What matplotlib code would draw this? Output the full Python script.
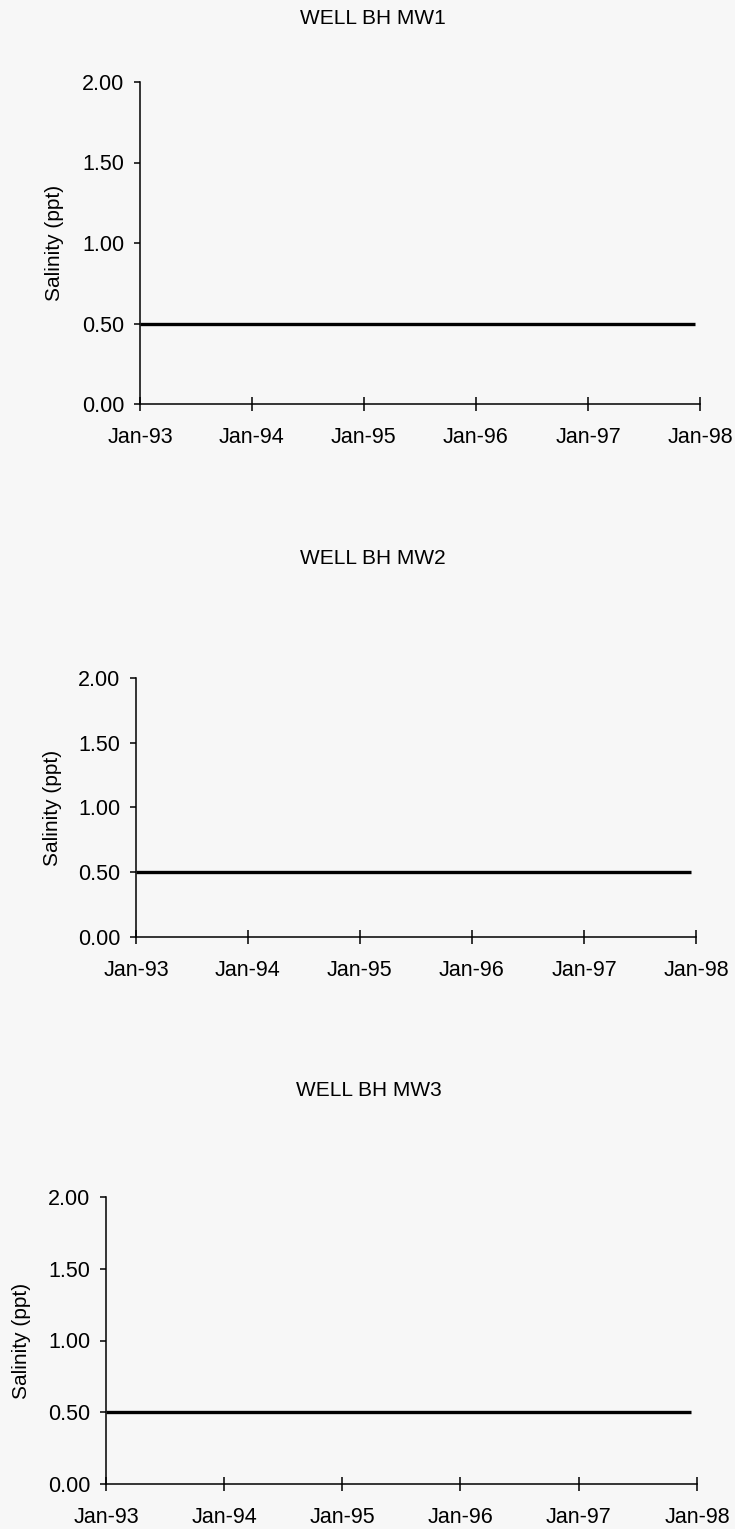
import matplotlib
matplotlib.use('Agg')
import matplotlib.pyplot as plt
import matplotlib.dates as mdates
import numpy as np

# salinity readings (ppt) for the three wells, flat at 0.50 the whole period
wells = ['WELL BH MW1', 'WELL BH MW2', 'WELL BH MW3']
mw1_dates = ['1993-01-01', '1997-12-15']
mw1_sal = [0.50, 0.50]
mw2_dates = ['1993-01-01', '1997-12-15']
mw2_sal = [0.50, 0.50]
mw3_dates = ['1993-01-01', '1997-12-15']
mw3_sal = [0.50, 0.50]

yticks = [0.0, 0.5, 1.0, 1.5, 2.0]
year_ticks = ['1993-01-01', '1994-01-01', '1995-01-01', '1996-01-01', '1997-01-01', '1998-01-01']

W, H = 735, 1529
bg = '#f7f7f7'
fig = plt.figure(figsize=(W / 100, H / 100), dpi=100, facecolor=bg)

# pixel boxes: left, right, top (y=2), bottom (y=0)
boxes = [(140, 700, 82, 404), (136, 696, 678, 937), (106, 697, 1197, 1484)]
title_pos = [(373, 19), (373, 559), (369, 1090)]
ylab_x = [55, 52, 22]
series = [(mw1_dates, mw1_sal), (mw2_dates, mw2_sal), (mw3_dates, mw3_sal)]

for i in range(3):
    l, r, t, b = boxes[i]
    ax = fig.add_axes([l / W, 1 - b / H, (r - l) / W, (b - t) / H])
    ax.set_facecolor(bg)
    d = np.array(series[i][0], dtype='datetime64[D]')
    ax.plot(d, series[i][1], color='black', linewidth=2.4, solid_capstyle='butt')

    ax.set_ylim(0, 2)
    ax.set_xlim(np.datetime64('1993-01-01'), np.datetime64('1998-01-01'))
    ax.set_yticks(yticks)
    ax.set_yticklabels(['%.2f' % v for v in yticks], fontsize=15.5, family='Liberation Sans')
    ax.set_xticks(np.array(year_ticks, dtype='datetime64[D]'))
    ax.xaxis.set_major_formatter(mdates.DateFormatter('%b-%y'))
    for lab in ax.get_xticklabels():
        lab.set_fontsize(15.5)
        lab.set_family('Liberation Sans')

    for s in ['top', 'right']:
        ax.spines[s].set_visible(False)
    for s in ['left', 'bottom']:
        ax.spines[s].set_linewidth(1.1)
    ax.tick_params(axis='y', direction='out', length=4.5, width=1.1, pad=7)
    ax.tick_params(axis='x', direction='inout', length=9.5, width=1.1, pad=12)

    ax.set_ylabel('Salinity (ppt)', fontsize=15, family='Liberation Sans', va='center')
    ax.yaxis.set_label_coords((ylab_x[i] - l) / (r - l), 0.5)

    tx, ty = title_pos[i]
    fig.text(tx / W, 1 - ty / H, wells[i], ha='center', va='center', fontsize=15,
             family='Liberation Sans')

fig.savefig('out.png', dpi=100, facecolor=bg)
